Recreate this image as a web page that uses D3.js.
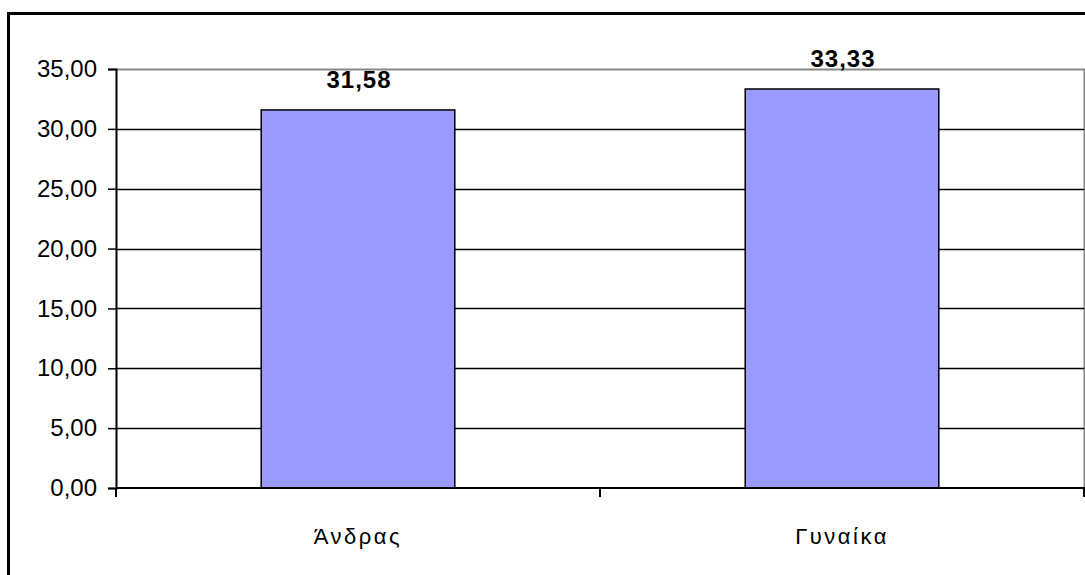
<!DOCTYPE html>
<html>
<head>
<meta charset="utf-8">
<script src="https://cdn.jsdelivr.net/npm/d3@7"></script>
<style>
  html, body { margin: 0; padding: 0; background: #fff; }
  svg { display: block; font-family: "Liberation Sans", Arial, sans-serif; }
</style>
</head>
<body>
<svg id="chart"></svg>
<script>
var categories = ['Άνδρας', 'Γυναίκα'];
var values = [31.58, 33.33];
var yTicks = [0, 5, 10, 15, 20, 25, 30, 35];

var width = 1085;
var height = 575;
var plot = { left: 116, top: 69, right: 1084, bottom: 488 };

var svg = d3.select('#chart')
    .attr('width', width)
    .attr('height', height);

// outer frame (only top and left visible in the picture)
svg.append('path')
    .attr('d', `M8.5,${height} V13.5 H${width}`)
    .attr('fill', 'none')
    .attr('stroke', '#000')
    .attr('stroke-width', 3);

var x = d3.scaleBand()
    .domain(categories)
    .range([plot.left, plot.right]);

var y = d3.scaleLinear()
    .domain([0, 35])
    .range([plot.bottom, plot.top]);

var fmt = v => d3.format('.2f')(v).replace('.', ',');

// plot area border (grey top/right)
svg.append('path')
    .attr('d', `M${plot.left},${y(35) + 0.5} H${plot.right + 0.5} V${plot.bottom}`)
    .attr('fill', 'none')
    .attr('stroke', '#888')
    .attr('stroke-width', 2);

// gridlines
svg.append('g').selectAll('line')
    .data(yTicks.filter(d => d > 0 && d < 35))
    .enter().append('line')
    .attr('x1', plot.left)
    .attr('x2', plot.right)
    .attr('y1', d => Math.round(y(d)) + 0.5)
    .attr('y2', d => Math.round(y(d)) + 0.5)
    .attr('stroke', '#000')
    .attr('stroke-width', 1.5);

// bars
var barW = x.bandwidth() * 0.4;
svg.append('g').selectAll('rect')
    .data(values)
    .enter().append('rect')
    .attr('x', (d, i) => x(categories[i]) + (x.bandwidth() - barW) / 2)
    .attr('y', d => y(d))
    .attr('width', barW)
    .attr('height', d => plot.bottom - y(d))
    .attr('fill', '#9999ff')
    .attr('stroke', '#000')
    .attr('stroke-width', 1.5);

// value labels
svg.append('g').selectAll('text')
    .data(values)
    .enter().append('text')
    .attr('x', (d, i) => x(categories[i]) + x.bandwidth() / 2 + 1)
    .attr('y', d => y(d) - 22)
    .attr('text-anchor', 'middle')
    .attr('font-size', 24)
    .attr('font-weight', 'bold')
    .attr('letter-spacing', 1)
    .text(d => fmt(d));

// y axis
var yAxis = d3.axisLeft(y)
    .tickValues(yTicks)
    .tickSize(8)
    .tickPadding(11)
    .tickFormat(fmt);

var yg = svg.append('g')
    .attr('transform', `translate(${plot.left},0)`)
    .call(yAxis);
yg.select('.domain').attr('stroke', '#000').attr('stroke-width', 2);
yg.selectAll('.tick line').attr('stroke', '#000').attr('stroke-width', 1.5);
yg.selectAll('.tick text')
    .attr('font-size', 24)
    .attr('fill', '#000')
    .attr('font-family', '"Liberation Sans", Arial, sans-serif');

// x axis: ticks at category boundaries
var xg = svg.append('g')
    .attr('transform', `translate(0,${plot.bottom})`);
xg.append('line')
    .attr('x1', plot.left)
    .attr('x2', plot.right + 1)
    .attr('stroke', '#000')
    .attr('stroke-width', 2);
xg.selectAll('.bound')
    .data(categories.map(c => x(c)).concat([plot.right]))
    .enter().append('line')
    .attr('x1', d => d)
    .attr('x2', d => d)
    .attr('y1', 0)
    .attr('y2', 9)
    .attr('stroke', '#000')
    .attr('stroke-width', 2);
xg.selectAll('text')
    .data(categories)
    .enter().append('text')
    .attr('x', d => x(d) + x.bandwidth() / 2)
    .attr('y', 56)
    .attr('text-anchor', 'middle')
    .attr('font-size', 22)
    .attr('letter-spacing', 2.5)
    .text(d => d);
</script>
</body>
</html>
